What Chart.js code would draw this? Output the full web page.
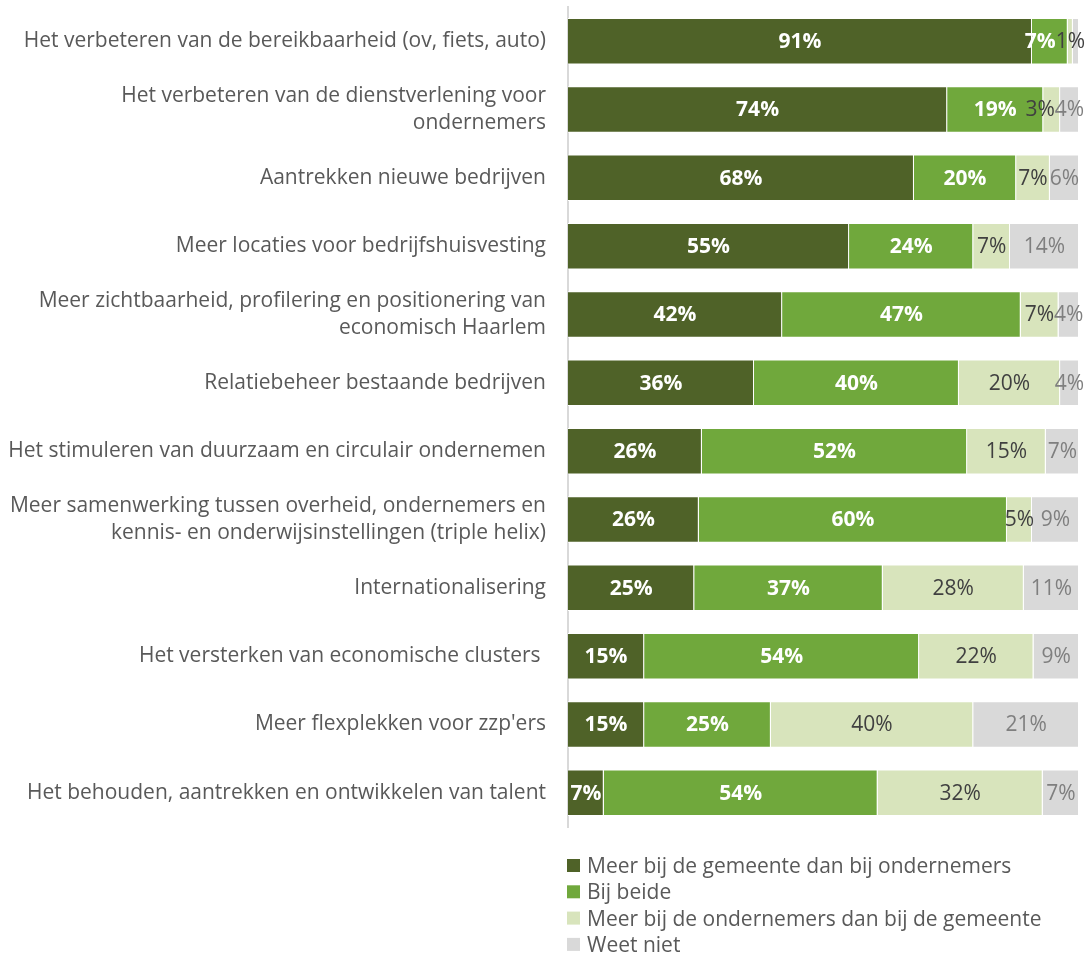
<!DOCTYPE html>
<html><head><meta charset="utf-8">
<script src="https://cdn.jsdelivr.net/npm/chart.js@4/dist/chart.umd.min.js"></script>
<style>html,body{margin:0;padding:0;background:#fff}#wrap{width:1086px;height:957px}</style>
</head><body><div id="wrap"><canvas id="c" width="1086" height="957"></canvas></div>
<script>
const categories = [
  "Het verbeteren van de bereikbaarheid (ov, fiets, auto)",
  ["Het verbeteren van de dienstverlening voor", "ondernemers"],
  "Aantrekken nieuwe bedrijven",
  "Meer locaties voor bedrijfshuisvesting",
  ["Meer zichtbaarheid, profilering en positionering van", "economisch Haarlem"],
  "Relatiebeheer bestaande bedrijven",
  "Het stimuleren van duurzaam en circulair ondernemen",
  ["Meer samenwerking tussen overheid, ondernemers en", "kennis- en onderwijsinstellingen (triple helix)"],
  "Internationalisering",
  "Het versterken van economische clusters ",
  "Meer flexplekken voor zzp'ers",
  "Het behouden, aantrekken en ontwikkelen van talent"
];
const seriesNames = [
  "Meer bij de gemeente dan bij ondernemers",
  "Bij beide",
  "Meer bij de ondernemers dan bij de gemeente",
  "Weet niet"
];
const gemeente   = [90.8, 74.2, 67.7, 55.0, 41.9, 36.4, 26.2, 25.6, 24.7, 14.9, 14.9, 7.0];
const beide      = [7.0, 18.8, 20.0, 24.3, 46.7, 40.1, 51.9, 60.3, 36.9, 53.8, 24.8, 53.6];
const ondernemers= [1.0, 3.3, 6.6, 7.2, 7.4, 19.8, 15.4, 4.9, 27.6, 22.4, 39.6, 32.3];
const weetNiet   = [1.2, 3.7, 5.7, 13.5, 4.0, 3.7, 6.5, 9.2, 10.8, 8.9, 20.7, 7.1];

const colors = ['#4f6228', '#70a83c', '#d8e4bc', '#d9d9d9'];
const labelColors = ['#ffffff', '#ffffff', '#404040', '#7f7f7f'];
const labelWeights = ['bold', 'bold', 'normal', 'normal'];
const FONT = "'Open Sans', sans-serif";
const FS = 21;

const valueLabels = {
  id: 'valueLabels',
  afterDatasetsDraw(chart) {
    const ctx = chart.ctx;
    const nDs = chart.data.datasets.length;
    const rightLimit = chart.width - 1;
    ctx.save();
    ctx.textAlign = 'center';
    ctx.textBaseline = 'middle';
    chart.data.labels.forEach((_, i) => {
      const items = [];
      for (let di = 0; di < nDs; di++) {
        const bar = chart.getDatasetMeta(di).data[i];
        const v = chart.data.datasets[di].data[i];
        const text = Math.round(v) + '%';
        ctx.font = labelWeights[di] + ' ' + FS + 'px ' + FONT;
        const w = ctx.measureText(text).width;
        items.push({ di, text, w, cx: (bar.x + bar.base) / 2, y: bar.y, show: true });
      }
      let nextLeft = rightLimit;
      for (let k = items.length - 1; k >= 0; k--) {
        const it = items[k];
        if (it.cx + it.w / 2 > nextLeft) {
          const newCx = nextLeft - it.w / 2;
          const prev = items[k - 1];
          const prevRight = prev ? prev.cx + prev.w / 2 : -Infinity;
          const barLeft = chart.getDatasetMeta(it.di).data[i].base;
          if (newCx - it.w / 2 < prevRight - 2 && prev && prev.di > 0 && it.w / 2 + 6 > (it.cx - barLeft) * 2) {
            it.show = false;
            continue;
          }
          it.cx = newCx;
        }
        nextLeft = it.cx - it.w / 2;
      }
      items.forEach(it => {
        if (!it.show) return;
        ctx.font = labelWeights[it.di] + ' ' + FS + 'px ' + FONT;
        ctx.fillStyle = labelColors[it.di];
        ctx.fillText(it.text, it.cx, it.y + 1);
      });
    });
    ctx.restore();
  }
};

const customLegend = {
  id: 'customLegend',
  afterDraw(chart) {
    const ctx = chart.ctx;
    ctx.save();
    ctx.font = FS + 'px ' + FONT;
    ctx.textBaseline = 'middle';
    ctx.textAlign = 'left';
    chart.data.datasets.forEach((ds, i) => {
      const y = 866 + i * 26.3;
      ctx.fillStyle = colors[i];
      ctx.fillRect(567, y - 7, 13, 13);
      ctx.fillStyle = '#595959';
      ctx.fillText(ds.label, 587, y + 1);
    });
    ctx.restore();
  }
};

const seriesData = [gemeente, beide, ondernemers, weetNiet];
new Chart(document.getElementById('c'), {
  type: 'bar',
  data: {
    labels: categories,
    datasets: seriesData.map((d, i) => ({
      label: seriesNames[i],
      data: d,
      backgroundColor: colors[i],
      borderColor: '#ffffff',
      borderWidth: 1,
      categoryPercentage: 1,
      barPercentage: 0.68
    }))
  },
  options: {
    indexAxis: 'y',
    responsive: false,
    animation: false,
    layout: { padding: { left: 0, right: 7, top: 7, bottom: 130 } },
    plugins: { legend: { display: false }, tooltip: { enabled: false } },
    scales: {
      x: { stacked: true, min: 0, max: 100, display: false },
      y: {
        stacked: true,
        afterFit(scale) { scale.width = 568; scale.paddingTop = 0; scale.paddingBottom = 0; },
        grid: { display: false, drawTicks: false },
        border: { display: true, color: '#d9d9d9', width: 2 },
        ticks: {
          padding: 22,
          color: '#595959',
          font: { family: FONT, size: FS, lineHeight: 1.3 }
        }
      }
    }
  },
  plugins: [valueLabels, customLegend]
});
</script>
</body></html>
